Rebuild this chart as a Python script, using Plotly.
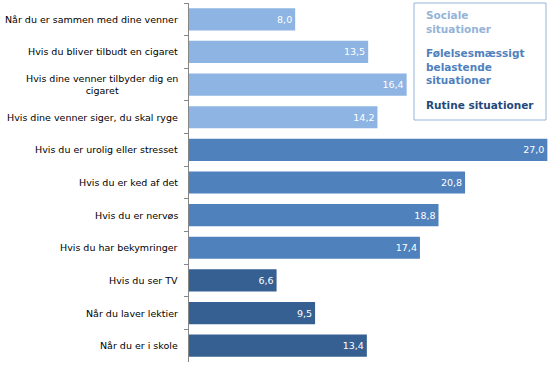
import plotly.graph_objects as go

categories = [
    "Når du er sammen med dine venner",
    "Hvis du bliver tilbudt en cigaret",
    "Hvis dine venner tilbyder dig en<br>cigaret",
    "Hvis dine venner siger, du skal ryge",
    "Hvis du er urolig eller stresset",
    "Hvis du er ked af det",
    "Hvis du er nervøs",
    "Hvis du har bekymringer",
    "Hvis du ser TV",
    "Når du laver lektier",
    "Når du er i skole",
]
values = [8.0, 13.5, 16.4, 14.2, 27.0, 20.8, 18.8, 17.4, 6.6, 9.5, 13.4]
groups = ["s", "s", "s", "s", "f", "f", "f", "f", "r", "r", "r"]
group_colors = {"s": "#8DB4E2", "f": "#4F81BD", "r": "#376092"}
legend_labels = [
    ("Sociale<br>situationer", "#95B3D7"),
    ("Følelsesmæssigt<br>belastende<br>situationer", "#4F81BD"),
    ("Rutine situationer", "#1F497D"),
]

W, H = 550, 375
FONT = "Verdana, DejaVu Sans, sans-serif"

fig = go.Figure()
fig.add_trace(go.Bar(
    y=categories, x=values, orientation="h",
    marker=dict(color=[group_colors[g] for g in groups], line=dict(width=0)),
    texttemplate="%{x:.1f}", textposition="inside", insidetextanchor="end",
    textfont=dict(color="white", size=9.5, family=FONT),
    hoverinfo="skip",
))

for c in categories:
    fig.add_annotation(x=0, y=c, xref="x", yref="y", text=c, showarrow=False,
                       xanchor="right", yanchor="middle", align="center", xshift=-9,
                       font=dict(size=9.5, family=FONT, color="#000000"))

# legend box
fig.add_shape(type="rect", xref="paper", yref="paper",
              x0=414 / W, x1=546 / W, y0=1 - 120 / H, y1=1 - 3 / H,
              line=dict(color="#95B3D7", width=1), fillcolor="white", layer="above")
tops = [7, 45, 97]
for (txt, col), top in zip(legend_labels, tops):
    fig.add_annotation(x=424 / W, y=1 - top / H, xref="paper", yref="paper",
                       text="<b>" + txt + "</b>", showarrow=False, xanchor="left",
                       yanchor="top", align="left",
                       font=dict(size=10.5, family=FONT, color=col))

fig.update_layout(
    width=W, height=H, margin=dict(l=0, r=0, t=0, b=0, autoexpand=False),
    paper_bgcolor="white", plot_bgcolor="white",
    separators=",.", showlegend=False, bargap=0.32,
    xaxis=dict(domain=[189 / W, 1], range=[0, 27.2], visible=False),
    yaxis=dict(domain=[13 / H, 1 - 3 / H], autorange="reversed", showticklabels=False,
               tickson="boundaries", ticks="outside", ticklen=4, tickcolor="#868686",
               showline=True, linecolor="#868686", linewidth=1, showgrid=False,
               zeroline=False, automargin=False),
)

fig.write_html("out.html", config={"displayModeBar": False},
               post_script="document.body.style.margin='0';document.body.style.overflow='hidden';")
